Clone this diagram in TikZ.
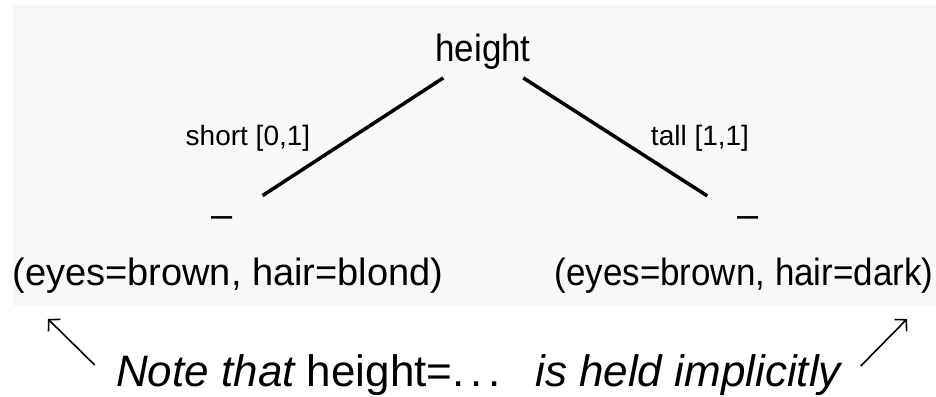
\documentclass[tikz,border=0pt]{standalone}
\usepackage{fontspec}
\setmainfont{Liberation Sans}
\usetikzlibrary{positioning,arrows.meta}
\definecolor{bgtint}{RGB}{246,249,246}

\begin{document}
\begin{tikzpicture}[x=1pt, y=-1pt,
  attr/.style={inner sep=8pt, font=\fontsize{38}{40}\selectfont},
  lbl/.style={inner sep=0pt, font=\fontsize{28}{30}\selectfont},
  cls/.style={inner sep=0pt, font=\fontsize{38}{40}\selectfont},
  leaf/.style={inner sep=0pt, anchor=base, font=\fontsize{38}{40}\selectfont},
  br/.style={line width=3.5pt, shorten >=38pt},
  ptr/.style={line width=1.6pt, -{Straight Barb[length=8pt,width=17pt]}}
]
\useasboundingbox (0,0) rectangle (936,396);
\fill[bgtint] (13,5) rectangle (936,306);
% root test
\node[attr, xscale=0.92] (height) at (483,52) {height};
% branch labels
\node[lbl] (lshort) at (248,138) {short [0,1]};
\node[lbl] (ltall) at (700,138) {tall [1,1]};
% class of each leaf
\node[cls] (lminus) at (222,222) {--};
\node[cls] (rminus) at (748,222) {--};
\node[leaf] (lleaf) at (228,285) {(eyes=brown, hair=blond)};
\node[leaf, xscale=0.92] (rleaf) at (744,285) {(eyes=brown, hair=dark)};
\foreach \c in {lminus,rminus} {\draw[br] (height) -- (\c);}
% remark underneath
\node[inner sep=0pt, anchor=base west, font=\fontsize{44}{46}\selectfont] (note) at (116,386)
  {{\itshape Note that} height=.\kern6pt.\kern6pt.\hspace{34pt}{\itshape is held implicitly}};
\coordinate (ltip) at (48,319);
\coordinate (rtip) at (907,319);
\draw[ptr, shorten <=30pt] (note.base west) -- (ltip);
\draw[ptr, shorten <=28pt] (note.base east) -- (rtip);
\end{tikzpicture}
\end{document}
